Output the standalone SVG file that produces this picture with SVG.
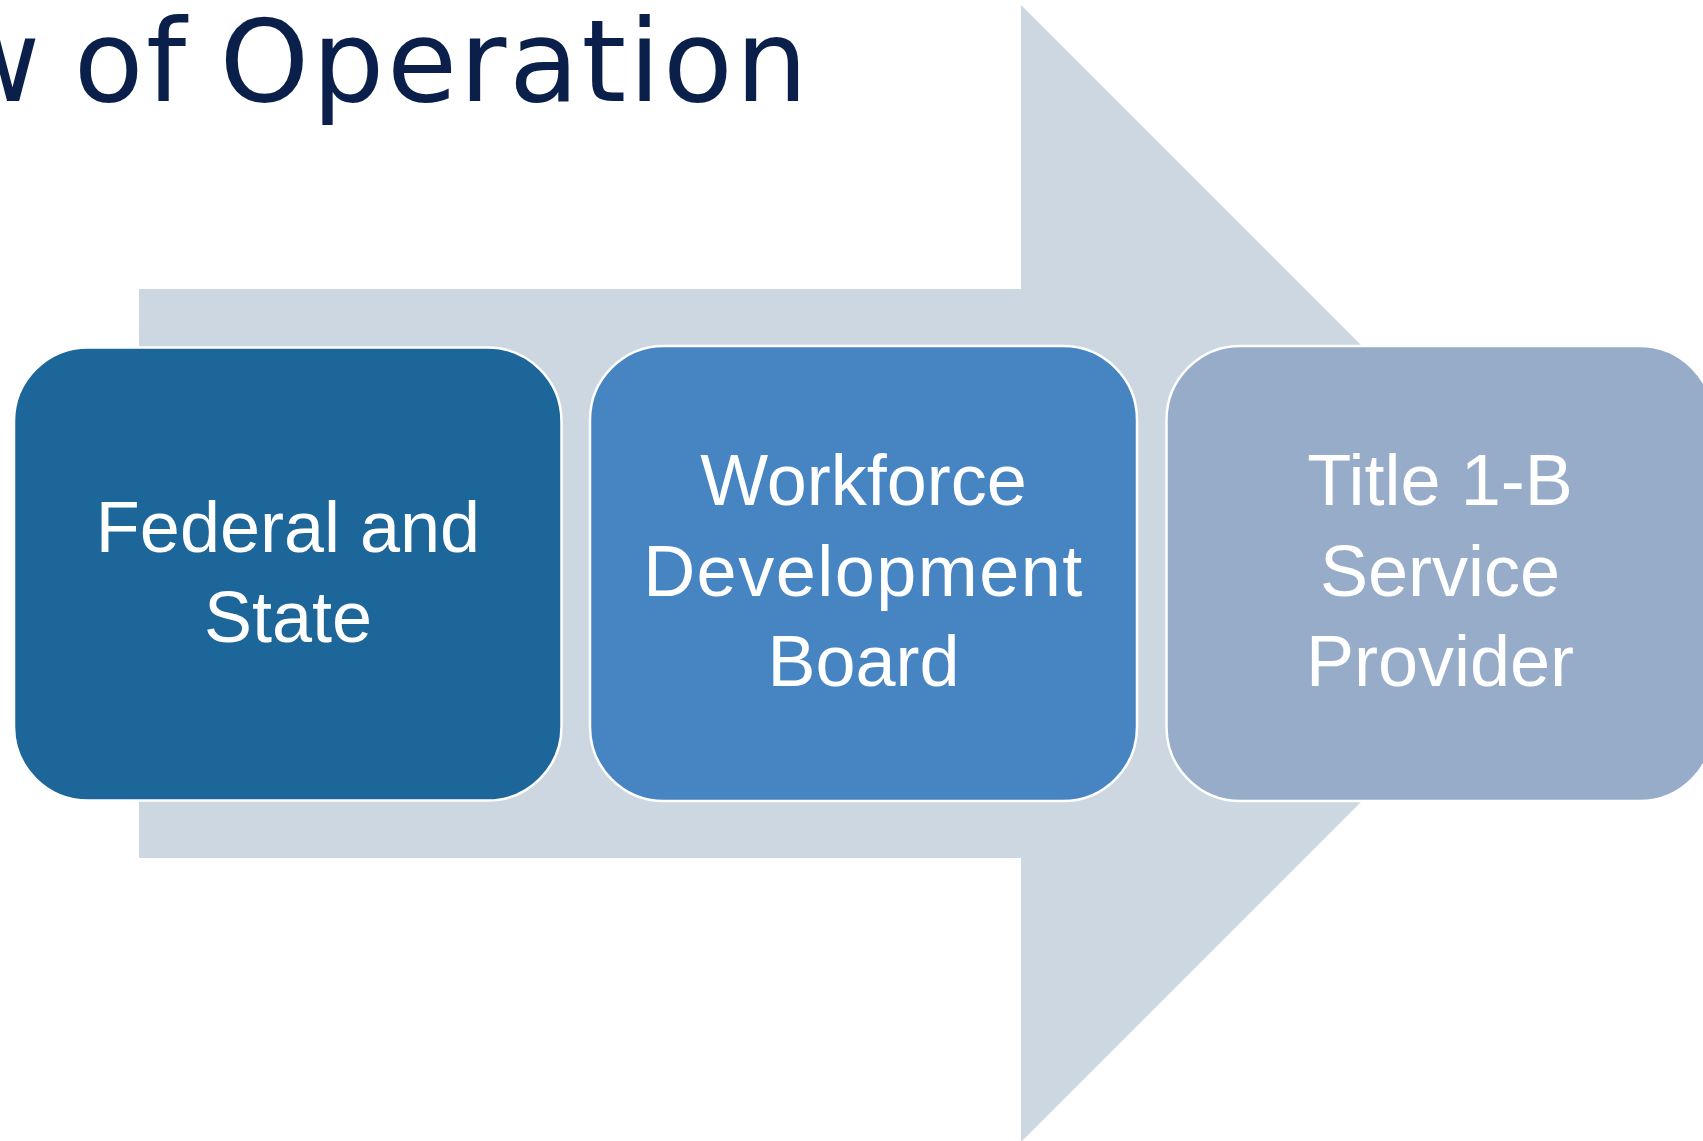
<svg xmlns="http://www.w3.org/2000/svg" width="1703" height="1141" viewBox="0 0 1703 1141">
  <style>
    .title { font-family: "DejaVu Sans", "Liberation Sans", sans-serif; font-size: 114px; fill: #0A1F4A; }
    .box { stroke: #FFFFFF; stroke-width: 2.5; }
    .lbl { font-family: "Liberation Sans", Arial, sans-serif; font-size: 72px; fill: #FFFFFF; text-anchor: middle; }
  </style>
  <rect width="1703" height="1141" fill="#FFFFFF"/>
  <text class="title" x="-53" y="101" letter-spacing="2.6" word-spacing="-8">w of Operation</text>
  <g id="connectors">
    <polygon id="flow-arrow" points="139,289 1021,289 1021,5 1589.5,573.5 1021,1142 1021,858 139,858" fill="#CDD7E2"/>
  </g>
  <g id="node-federal-state">
    <rect class="box" x="14" y="347.5" width="547.5" height="453" rx="74" ry="74" fill="#1D6699"/>
    <text class="lbl" x="288" y="552">Federal and</text>
    <text class="lbl" x="288" y="642">State</text>
  </g>
  <g id="node-workforce-board">
    <rect class="box" x="590" y="346" width="547" height="455" rx="74" ry="74" fill="#4685C2"/>
    <text class="lbl" x="863.5" y="505">Workforce</text>
    <text class="lbl" x="863.5" y="596" letter-spacing="1.5">Development</text>
    <text class="lbl" x="863.5" y="686">Board</text>
  </g>
  <g id="node-title-1b">
    <rect class="box" x="1166.5" y="346" width="547" height="455" rx="74" ry="74" fill="#97ACC8"/>
    <text class="lbl" x="1440" y="505">Title 1-B</text>
    <text class="lbl" x="1440" y="596">Service</text>
    <text class="lbl" x="1440" y="686">Provider</text>
  </g>
</svg>
